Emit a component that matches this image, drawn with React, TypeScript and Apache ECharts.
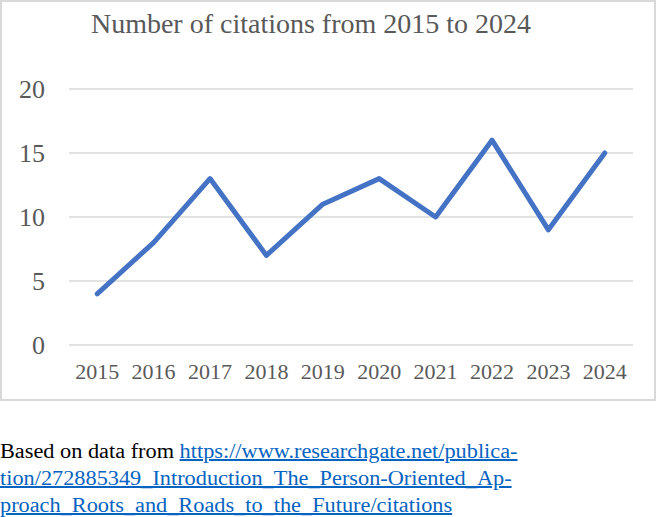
import React, { useEffect, useRef } from "react";
import * as echarts from "echarts";

const years = ["2015", "2016", "2017", "2018", "2019", "2020", "2021", "2022", "2023", "2024"];
const citations = [4, 8, 13, 7, 11, 13, 10, 16, 9, 15];
const titleText = "Number of citations from 2015 to 2024";

export default function App() {
  const ref = useRef<HTMLDivElement>(null);
  useEffect(() => {
    const chart = echarts.init(ref.current!, null, { renderer: "svg" });
    chart.setOption({
      animation: false,
      title: {
        text: titleText,
        left: 306,
        top: 4,
        textAlign: "center",
        textStyle: { fontFamily: "Liberation Serif", fontSize: 28, fontWeight: "normal", color: "#595959" },
      },
      graphic: [
        {
          type: "rect",
          shape: { x: 1, y: 1, width: 654, height: 399 },
          style: { fill: "none", stroke: "#d9d9d9", lineWidth: 2 },
          silent: true,
        },
      ],
      grid: { left: 69, right: 36, top: 89, bottom: 57 },
      xAxis: {
        type: "category",
        data: years,
        boundaryGap: true,
        axisLine: { show: false },
        axisTick: { show: false },
        axisLabel: {
          interval: 0,
          hideOverlap: false,
          fontFamily: "Liberation Serif",
          fontSize: 22,
          color: "#595959",
          margin: 15,
        },
      },
      yAxis: {
        type: "value",
        min: 0,
        max: 20,
        interval: 5,
        axisLine: { show: false },
        axisTick: { show: false },
        axisLabel: { fontFamily: "Liberation Serif", fontSize: 26, color: "#595959", margin: 24 },
        splitLine: { lineStyle: { color: "#d9d9d9", width: 1.5 } },
      },
      series: [
        {
          type: "line",
          data: citations,
          symbol: "none",
          lineStyle: { color: "#4472C4", width: 5, cap: "round", join: "round" },
        },
      ],
    });
    return () => chart.dispose();
  }, []);

  const linkStyle: React.CSSProperties = { color: "#0563C1", textDecoration: "underline" };
  return (
    <div style={{ position: "absolute", left: 0, top: 0, width: 669, height: 517, background: "#fff" }}>
      <div ref={ref} style={{ position: "absolute", left: 0, top: 0, width: 669, height: 402 }} />
      <div
        style={{
          position: "absolute",
          left: 0,
          top: 438,
          fontFamily: "'Liberation Serif', serif",
          fontSize: 20,
          lineHeight: "27px",
          color: "#000",
          whiteSpace: "nowrap",
          transform: "scaleX(1.115)",
          transformOrigin: "0 0",
        }}
      >
        Based on data from{" "}
        <a style={linkStyle} href="https://www.researchgate.net/publication/272885349_Introduction_The_Person-Oriented_Approach_Roots_and_Roads_to_the_Future/citations">
          https://www.researchgate.net/publica-
          <br />
          tion/272885349_Introduction_The_Person-Oriented_Ap-
          <br />
          proach_Roots_and_Roads_to_the_Future/citations
        </a>
      </div>
    </div>
  );
}
